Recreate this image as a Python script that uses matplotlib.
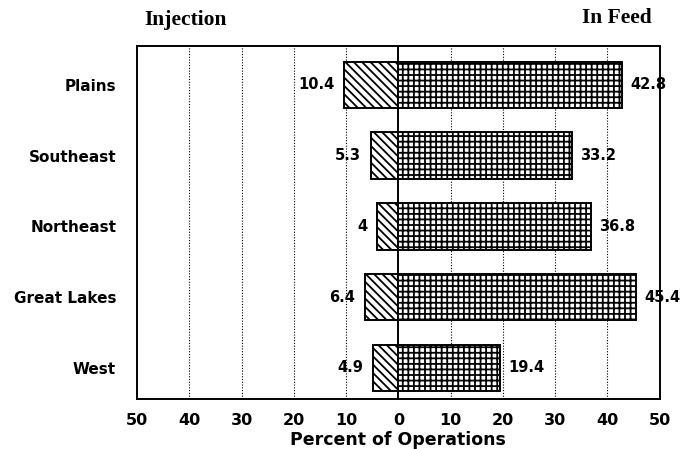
import matplotlib
matplotlib.use("Agg")
import matplotlib.pyplot as plt

regions = ["Plains", "Southeast", "Northeast", "Great Lakes", "West"]
injection = [10.4, 5.3, 4, 6.4, 4.9]
in_feed = [42.8, 33.2, 36.8, 45.4, 19.4]
tick_values = [-50, -40, -30, -20, -10, 0, 10, 20, 30, 40, 50]
tick_labels = ["50", "40", "30", "20", "10", "0", "10", "20", "30", "40", "50"]

plt.rcParams["font.family"] = ["DejaVu Sans"]
plt.rcParams["hatch.linewidth"] = 1.3

fig = plt.figure(figsize=(6.86, 4.49), dpi=100)
ax = fig.add_axes([0.1997, 0.1114, 0.762, 0.786])

ypos = list(range(len(regions)))
ax.barh(ypos, [-v for v in injection], height=0.66, color="white",
        edgecolor="black", hatch="\\\\\\\\", linewidth=1.4, zorder=3)
ax.barh(ypos, in_feed, height=0.66, color="white",
        edgecolor="black", hatch="+++", linewidth=1.4, zorder=3)

# value labels beside each bar
for y, v in zip(ypos, injection):
    ax.text(-v - 1.9, y, f"{v:g}", ha="right", va="center",
            fontsize=10.5, fontweight="bold", zorder=4)
for y, v in zip(ypos, in_feed):
    ax.text(v + 1.6, y, f"{v:g}", ha="left", va="center",
            fontsize=10.5, fontweight="bold", zorder=4)

for x in [-40, -30, -20, -10, 10, 20, 30, 40]:
    ax.axvline(x, color="black", linestyle=(0, (1, 1.5)), linewidth=0.8, zorder=1)
ax.axvline(0, color="black", linewidth=1.4, zorder=4)

ax.set_xlim(-50, 50)
ax.set_ylim(4.44, -0.55)
ax.set_xticks(tick_values)
ax.set_xticklabels(tick_labels, fontsize=11.5, fontweight="bold")
ax.set_yticks(ypos)
ax.set_yticklabels(regions, fontsize=11, fontweight="bold")
ax.tick_params(axis="x", length=0, pad=10)
ax.tick_params(axis="y", length=0, pad=15)
for s in ax.spines.values():
    s.set_linewidth(1.4)
ax.set_xlabel("Percent of Operations", fontsize=12.5, fontweight="bold", labelpad=2)

fig.text(0.27, 0.955, "Injection", family=["Liberation Serif"], fontsize=15.5,
         fontweight="bold", ha="center", va="center")
fig.text(0.950, 0.960, "In Feed", family=["Liberation Serif"], fontsize=15.5,
         fontweight="bold", ha="right", va="center")

fig.savefig("out.png", dpi=100)
